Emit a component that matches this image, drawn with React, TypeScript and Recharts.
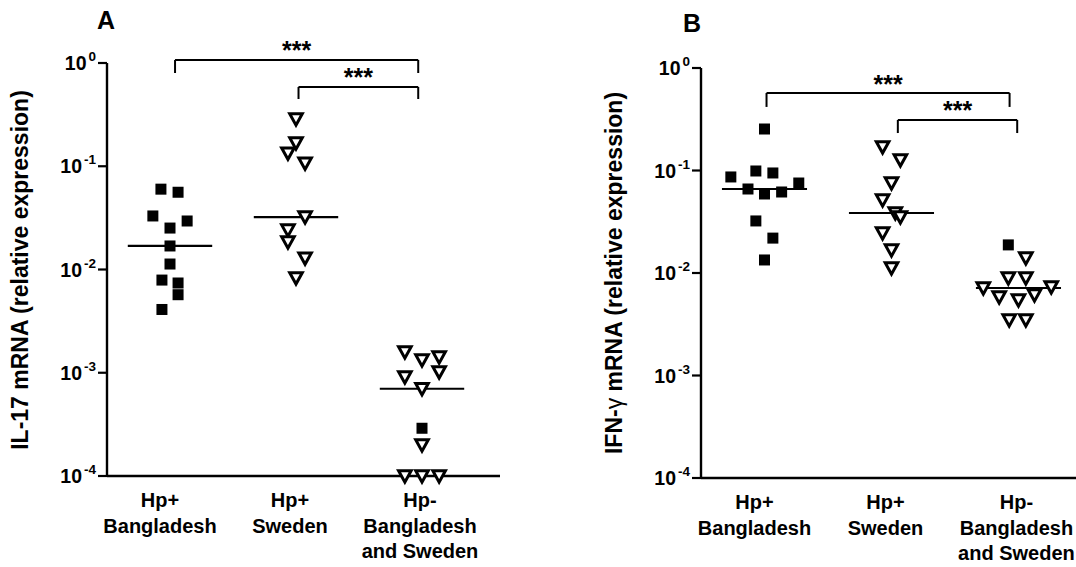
import React from "react";
import { ScatterChart, Scatter, XAxis, YAxis, ReferenceLine } from "recharts";

const FONT = "'Liberation Sans', Arial, Helvetica, sans-serif";

// ---------- shared axis data ----------
const categoryTicks = [1, 2, 3];
const xTickLines = [
  ["Hp+", "Bangladesh"],
  ["Hp+", "Sweden"],
  ["Hp-", "Bangladesh", "and Sweden"],
];
const yTicks = [0.0001, 0.001, 0.01, 0.1, 1];

// ---------- Panel A : IL-17 ----------
const il17BdValues = [0.06, 0.056, 0.033, 0.0295, 0.0252, 0.0169, 0.0113, 0.0079, 0.0074, 0.0057, 0.0041];
const il17BdJitter = [-0.072, 0.064, -0.136, 0.136, 0, 0, 0, -0.064, 0.064, 0.064, -0.064];
const il17SeValues = [0.287, 0.168, 0.134, 0.107, 0.0322, 0.0241, 0.0185, 0.0129, 0.0083];
const il17SeJitter = [0, 0, -0.064, 0.072, 0.072, -0.064, -0.064, 0.072, 0];
const il17NegTriValues = [0.00159, 0.00142, 0.00133, 0.00102, 0.00091, 0.0007, 0.0002, 0.0001, 0.0001, 0.0001];
const il17NegTriJitter = [-0.136, 0.136, 0, 0.136, -0.136, 0, 0, -0.136, 0, 0.136];
const il17NegSqValues = [0.00029];
const il17NegSqJitter = [0];
const il17BracketFrom = [1.04, 2.02];
const il17BracketTo = [2.97, 2.97];
const il17BracketTop = [1.07, 0.586];
const il17BracketLeg = [0.8, 0.448];

// ---------- Panel B : IFN-gamma ----------
const ifnBdValues = [0.254, 0.0989, 0.0946, 0.0865, 0.0755, 0.066, 0.0617, 0.059, 0.0322, 0.0219, 0.0134];
const ifnBdJitter = [0, -0.068, 0.066, -0.265, 0.27, -0.13, 0.135, 0, -0.068, 0.066, 0];
const ifnSeValues = [0.17, 0.127, 0.0755, 0.0515, 0.0385, 0.0352, 0.0246, 0.0168, 0.0112];
const ifnSeJitter = [-0.07, 0.07, 0, -0.07, 0.03, 0.07, -0.07, 0, 0];
const ifnNegTriValues = [0.014, 0.00894, 0.00894, 0.0073, 0.00714, 0.0061, 0.00583, 0.00545, 0.00348, 0.00348];
const ifnNegTriJitter = [0.058, -0.08, 0.058, 0.258, -0.277, 0.126, -0.152, 0, -0.073, 0.058];
const ifnNegSqValues = [0.0188];
const ifnNegSqJitter = [-0.08];
const ifnBracketFrom = [1.016, 2.05];
const ifnBracketTo = [2.93, 2.99];
const ifnBracketTop = [0.57, 0.311];
const ifnBracketLeg = [0.417, 0.232];

const toPoints = (group: number, values: number[], jitter: number[]) =>
  values.map((v, i) => ({ x: group + jitter[i], y: v }));

const median = (arr: number[]) => {
  const s = [...arr].sort((a, b) => a - b);
  const m = Math.floor(s.length / 2);
  return s.length % 2 ? s[m] : Math.sqrt(s[m - 1] * s[m]);
};

const SquareShape = (p: any) => (
  <rect x={p.cx - 5.5} y={p.cy - 5.5} width={11} height={11} fill="#000" />
);
const TriShape = (p: any) => (
  <polygon
    points={`${p.cx - 6.3},${p.cy - 5.2} ${p.cx + 6.3},${p.cy - 5.2} ${p.cx},${p.cy + 6.2}`}
    fill="#fff"
    stroke="#000"
    strokeWidth={3}
    strokeLinejoin="miter"
  />
);

const YTick = (props: any) => {
  const { x, y, payload } = props;
  const exp = Math.round(Math.log10(payload.value));
  return (
    <text x={x} y={y + 7} textAnchor="end" fontFamily={FONT} fontWeight="bold" fontSize={19.5} fill="#000">
      <tspan>10</tspan>
      <tspan fontSize={13.5} dx={2} dy={-9}>{exp === 0 ? "0" : "-" + Math.abs(exp)}</tspan>
    </text>
  );
};

const labelShift = [-10, -6, -2];

const XTick = (props: any) => {
  const { x, y, payload } = props;
  const idx = Math.round(payload.value) - 1;
  const lines = xTickLines[idx] || [];
  const offs = [31, 56.5, 82];
  return (
    <g>
      {lines.map((l, i) => (
        <text key={i} x={x + (labelShift[idx] || 0)} y={y + offs[i]} textAnchor="middle" fontFamily={FONT} fontWeight="bold" fontSize={20} fill="#000">
          {l}
        </text>
      ))}
    </g>
  );
};

const StarLabel = (props: any) => {
  const vb = props.viewBox || {};
  return (
    <text x={vb.x + (vb.width || 0) / 2} y={vb.y - 0.5} textAnchor="middle" fontFamily={FONT} fontWeight="bold" fontSize={25} fill="#000">
      ***
    </text>
  );
};

type PanelProps = {
  width: number;
  height: number;
  top: number;
  yAxisWidth: number;
  xAxisHeight: number;
  xMax: number;
  groups: { sq: any[]; tri: any[]; med: number; center: number }[];
  bFrom: number[];
  bTo: number[];
  bTop: number[];
  bLeg: number[];
};

const Panel = ({ width, height, top, yAxisWidth, xAxisHeight, xMax, groups, bFrom, bTo, bTop, bLeg }: PanelProps) => {
  const sq = groups.flatMap((g) => g.sq);
  const tri = groups.flatMap((g) => g.tri);
  return (
    <ScatterChart width={width} height={height} margin={{ top, right: 0, bottom: 0, left: 0 }}>
      <XAxis
        dataKey="x"
        type="number"
        domain={[0.5, xMax]}
        ticks={categoryTicks}
        interval={0}
        tickLine={false}
        tickSize={0}
        tickMargin={0}
        height={xAxisHeight}
        axisLine={{ stroke: "#000", strokeWidth: 2.4 }}
        tick={(p: any) => <XTick {...p} />}
        allowDataOverflow
      />
      <YAxis
        dataKey="y"
        type="number"
        scale="log"
        domain={[0.0001, 1]}
        ticks={yTicks}
        interval={0}
        width={yAxisWidth}
        tickSize={9}
        tickMargin={2}
        axisLine={{ stroke: "#000", strokeWidth: 2.4 }}
        tickLine={{ stroke: "#000", strokeWidth: 2.2 }}
        tick={(p: any) => <YTick {...p} />}
      />
      <Scatter data={sq} shape={SquareShape} isAnimationActive={false} />
      <Scatter data={tri} shape={TriShape} isAnimationActive={false} />
      {groups.map((g, i) => (
        <ReferenceLine
          key={"m" + i}
          segment={[
            { x: g.center - 0.335, y: g.med },
            { x: g.center + 0.335, y: g.med },
          ]}
          stroke="#000"
          strokeWidth={2.2}
          ifOverflow="visible"
        />
      ))}
      {bFrom.map((f, i) => (
        <ReferenceLine
          key={"bh" + i}
          segment={[
            { x: f, y: bTop[i] },
            { x: bTo[i], y: bTop[i] },
          ]}
          stroke="#000"
          strokeWidth={2}
          ifOverflow="visible"
          label={(p: any) => <StarLabel {...p} />}
        />
      ))}
      {bFrom.map((f, i) => (
        <ReferenceLine
          key={"bl" + i}
          segment={[
            { x: f, y: bTop[i] },
            { x: f, y: bLeg[i] },
          ]}
          stroke="#000"
          strokeWidth={2}
          ifOverflow="visible"
        />
      ))}
      {bTo.map((t, i) => (
        <ReferenceLine
          key={"br" + i}
          segment={[
            { x: t, y: bTop[i] },
            { x: t, y: bLeg[i] },
          ]}
          stroke="#000"
          strokeWidth={2}
          ifOverflow="visible"
        />
      ))}
    </ScatterChart>
  );
};

export default function App() {
  const groupsA = [
    { sq: toPoints(1, il17BdValues, il17BdJitter), tri: [], med: median(il17BdValues), center: 1 },
    { sq: [], tri: toPoints(2, il17SeValues, il17SeJitter), med: median(il17SeValues), center: 2 },
    {
      sq: toPoints(3, il17NegSqValues, il17NegSqJitter),
      tri: toPoints(3, il17NegTriValues, il17NegTriJitter),
      med: median([...il17NegTriValues, ...il17NegSqValues]),
      center: 3,
    },
  ];
  const groupsB = [
    { sq: toPoints(1, ifnBdValues, ifnBdJitter), tri: [], med: median(ifnBdValues), center: 1 },
    { sq: [], tri: toPoints(2, ifnSeValues, ifnSeJitter), med: median(ifnSeValues), center: 2 },
    {
      sq: toPoints(3, ifnNegSqValues, ifnNegSqJitter),
      tri: toPoints(3, ifnNegTriValues, ifnNegTriJitter),
      med: median([...ifnNegTriValues, ...ifnNegSqValues]),
      center: 3,
    },
  ];
  return (
    <div style={{ position: "absolute", left: 0, top: 0, width: 1076, height: 567, background: "#fff", overflow: "hidden" }}>
      <div style={{ position: "absolute", left: 0, top: 0 }}>
        <Panel
          width={500}
          height={567}
          top={63}
          yAxisWidth={107}
          xAxisHeight={91}
          xMax={3.5 + 15 / 126}
          groups={groupsA}
          bFrom={il17BracketFrom}
          bTo={il17BracketTo}
          bTop={il17BracketTop}
          bLeg={il17BracketLeg}
        />
      </div>
      <div style={{ position: "absolute", left: 520, top: 0 }}>
        <Panel
          width={556}
          height={567}
          top={68}
          yAxisWidth={181}
          xAxisHeight={89}
          xMax={3.453}
          groups={groupsB}
          bFrom={ifnBracketFrom}
          bTo={ifnBracketTo}
          bTop={ifnBracketTop}
          bLeg={ifnBracketLeg}
        />
      </div>
      <svg width={1076} height={567} style={{ position: "absolute", left: 0, top: 0, pointerEvents: "none" }}>
        <text x={97} y={29} fontFamily={FONT} fontWeight="bold" fontSize={25} fill="#000">A</text>
        <text x={683} y={32} fontFamily={FONT} fontWeight="bold" fontSize={25} fill="#000">B</text>
        <text transform="translate(28,270) rotate(-90)" textAnchor="middle" fontFamily={FONT} fontWeight="bold" fontSize={23} fill="#000">
          IL-17 mRNA (relative expression)
        </text>
        <text transform="translate(622,273) rotate(-90)" textAnchor="middle" fontFamily={FONT} fontWeight="bold" fontSize={23} fill="#000">
          IFN-<tspan fontWeight="normal">γ</tspan> mRNA (relative expression)
        </text>
      </svg>
    </div>
  );
}
